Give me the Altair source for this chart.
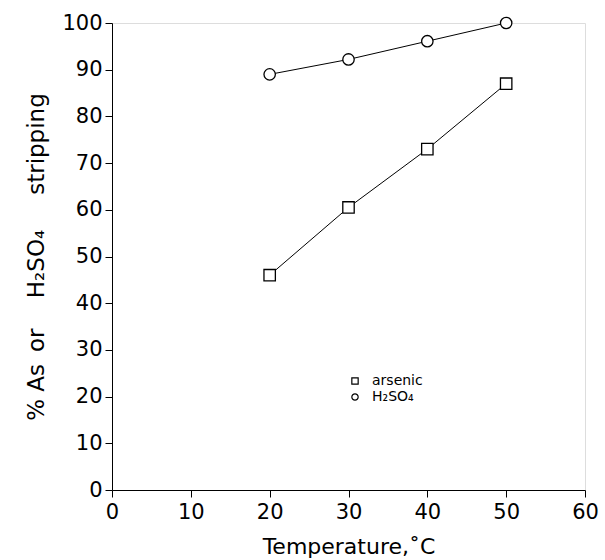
import altair as alt
import pandas as pd

temps = [20, 30, 40, 50]
arsenic = [46.0, 60.5, 73.0, 87.0]
h2so4 = [89.0, 92.2, 96.1, 100.0]
series_names = ["arsenic", "H\u2082SO\u2084"]

df = pd.DataFrame({
    "T": temps * 2,
    "v": arsenic + h2so4,
    "s": [series_names[0]] * 4 + [series_names[1]] * 4,
})

FONT = "DejaVu Sans"
y_title = "% As \u2009or \u2003H\u2082SO\u2084 \u2003\u2009stripping"

x = alt.X("T:Q", scale=alt.Scale(domain=[0, 60], nice=False),
          axis=alt.Axis(values=[0, 10, 20, 30, 40, 50, 60], title="Temperature,\u02daC",
                        grid=False, tickSize=7, labelFontSize=21, titleFontSize=22,
                        labelFont=FONT, titleFont=FONT, labelColor="black", titleColor="black",
                        titleFontWeight="normal", domainColor="black", tickColor="black",
                        labelPadding=4, titlePadding=14, labelFlush=False))
y = alt.Y("v:Q", scale=alt.Scale(domain=[0, 100], nice=False),
          axis=alt.Axis(values=list(range(0, 101, 10)), title=y_title,
                        grid=False, tickSize=7, labelFontSize=21, titleFontSize=23,
                        labelFont=FONT, titleFont=FONT, labelColor="black", titleColor="black",
                        titleFontWeight="normal", domainColor="black", tickColor="black",
                        labelPadding=3, titlePadding=13, labelFlush=False))

lines = alt.Chart(df).mark_line(color="black", strokeWidth=1).encode(
    x=x, y=y, detail="s:N")

backs = alt.Chart(df).mark_point(filled=True, color="white", size=130, opacity=1).encode(
    x=x, y=y,
    shape=alt.Shape("s:N", scale=alt.Scale(domain=series_names, range=["square", "circle"]),
                    legend=None))

points = alt.Chart(df).mark_point(filled=False, color="black",
                                  strokeWidth=1.3, size=130, opacity=1).encode(
    x=x, y=y,
    shape=alt.Shape("s:N", scale=alt.Scale(domain=series_names, range=["square", "circle"]),
                    legend=alt.Legend(orient="none", legendX=236, legendY=351, title=None,
                                      symbolSize=40, symbolStrokeWidth=1.2,
                                      labelFontSize=14, labelFont=FONT, labelColor="black",
                                      rowPadding=2, labelOffset=10)),
)

chart = alt.layer(lines, backs, points).resolve_scale(shape="independent").resolve_legend(
    shape="independent").properties(
    width=473, height=467,
    autosize=alt.AutoSizeParams(type="none"),
    padding={"left": 112, "top": 23, "right": 20, "bottom": 70},
).configure_view(stroke="black", strokeWidth=1.2).configure(background="white")

chart.save("out.html", embed_options={"renderer": "svg", "actions": False})
